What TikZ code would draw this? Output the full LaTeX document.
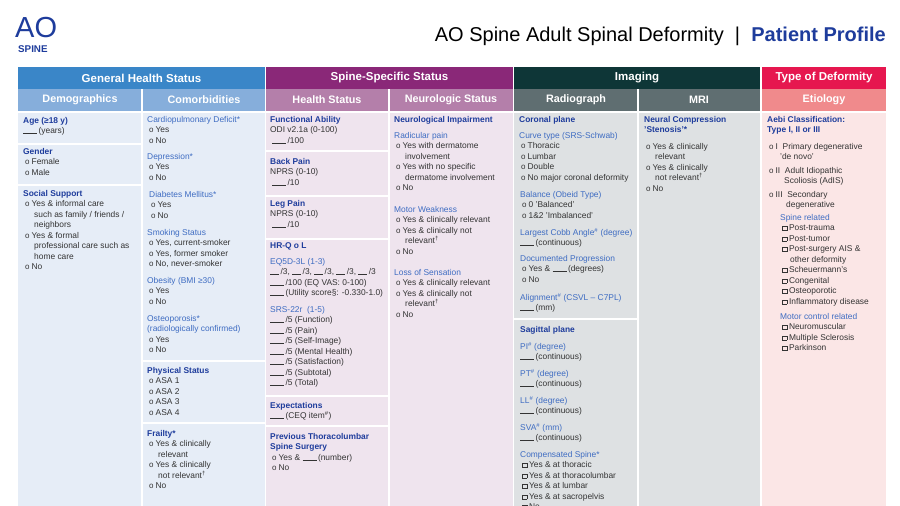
\documentclass[tikz,border=0pt]{standalone}
\usepackage{fontspec}
\setmainfont{Liberation Sans}
\definecolor{gA}{HTML}{3A86C8}\definecolor{gB}{HTML}{86AEDB}\definecolor{gC}{HTML}{E6EDF7}
\definecolor{sA}{HTML}{8A2878}\definecolor{sB}{HTML}{B47FAA}\definecolor{sC}{HTML}{EFE4EE}
\definecolor{iA}{HTML}{0E3637}\definecolor{iB}{HTML}{5F6E71}\definecolor{iC}{HTML}{DEE1E3}
\definecolor{tA}{HTML}{E6174F}\definecolor{tB}{HTML}{F08A8C}\definecolor{tC}{HTML}{FBE6E6}
\definecolor{hdc}{HTML}{1E3C9C}\definecolor{shc}{HTML}{3E6CC2}\definecolor{bodyc}{HTML}{333333}
\newcommand\hd[1]{{\bfseries\color{hdc}#1}}
\newcommand\shd[1]{{\color{shc}#1}}
\newcommand\bl{\hspace*{2pt}{\footnotesize o}\hspace{2pt}}
\newcommand\ct{\hspace*{11pt}}
\newcommand\bln{\rule{14pt}{0.4pt}\,}
\newcommand\chb{{\setlength\fboxrule{0.4pt}\setlength\fboxsep{0pt}\raisebox{0.3pt}{\fbox{\rule{0pt}{4pt}\hspace{4pt}}}}\hspace{2pt}}
\newcommand\cbl{\hspace*{2pt}\chb}
\tikzset{txt/.style={anchor=north west,inner sep=0pt,align=left,text=bodyc,font=\fontsize{8.4}{10.5}\selectfont},
 top/.style={text=white,font=\fontsize{11.5}{13}\selectfont\bfseries},
 sub/.style={text=white,font=\fontsize{10.8}{12}\selectfont\bfseries}}
\begin{document}
\begin{tikzpicture}[x=1pt,y=-1pt]
\useasboundingbox (0,0) rectangle (900,506);
\fill[white] (0,0) rectangle (900,506);
\begin{scope}
\clip (0,0) rectangle (900,506);
% logo and title
\node[anchor=west,inner sep=0,text=hdc,font=\fontsize{29}{29}\selectfont] (logo) at (15,28) {AO};
\node[anchor=west,inner sep=0,text=hdc,font=\fontsize{9.8}{10}\selectfont\bfseries] (spine) at (18,49) {SPINE};
\node[anchor=east,inner sep=0,font=\fontsize{20}{24}\selectfont] (title) at (886,36) {\color{black}AO Spine Adult Spinal Deformity\ \ |\ \ \textcolor{hdc}{\bfseries Patient Profile}};
% column backgrounds
\foreach \xa/\xb/\pa/\pb/\pc in {18/265/gA/gB/gC,266/513/sA/sB/sC,514/760/iA/iB/iC,762/886/tA/tB/tC}{
 \fill[\pa] (\xa,67) rectangle (\xb,89);
 \fill[\pb] (\xa,89) rectangle (\xb,111);
 \fill[\pc] (\xa,111) rectangle (\xb,510);}
% white separators
\foreach \x in {142,389,638}{\fill[white] (\x-1,89) rectangle (\x+1,510);}
\foreach \xa/\xb/\y in {18/141/144,18/141/185,143/265/361,143/265/423,266/388/151,266/388/196,266/388/239,266/388/396,266/388/426,514/637/319}{\fill[white] (\xa,\y-1) rectangle (\xb,\y+1);}
\foreach \xa/\xb in {18/513,514/886}{\fill[white] (\xa,111) rectangle (\xb,112.5);}
% headers
\node[top] (h1) at (141.5,78) {General Health Status};
\node[top] (h2) at (389.5,78) {Spine-Specific Status};
\node[top] (h3) at (637,78) {Imaging};
\node[top] (h4) at (824,78) {Type of Deformity};
\node[sub] (s1) at (80,100) {Demographics};
\node[sub] (s2) at (204,100) {Comorbidities};
\node[sub] (s3) at (327,100) {Health Status};
\node[sub] (s4) at (451,100) {Neurologic Status};
\node[sub] (s5) at (576,100) {Radiograph};
\node[sub] (s6) at (699,100) {MRI};
\node[sub] (s7) at (824,100) {Etiology};
% demographics
\node[txt] (d1) at (23,117) {\hd{Age (≥18 y)}\\\bln(years)};
\node[txt] (d2) at (23,148) {\hd{Gender}\\\bl Female\\\bl Male};
\node[txt] (d3) at (23,190) {\hd{Social Support}\\\bl Yes \& informal care\\\ct such as family / friends /\\\ct neighbors\\\bl Yes \& formal\\\ct professional care such as\\\ct home care\\\bl No};
% comorbidities
\node[txt] (c1) at (147,116) {\shd{Cardiopulmonary Deficit*}\\\bl Yes\\\bl No};
\node[txt] (c2) at (147,153) {\shd{Depression*}\\\bl Yes\\\bl No};
\node[txt] (c3) at (149,191) {\shd{Diabetes Mellitus*}\\\bl Yes\\\bl No};
\node[txt] (c4) at (147,229) {\shd{Smoking Status}\\\bl Yes, current-smoker\\\bl Yes, former smoker\\\bl No, never-smoker};
\node[txt] (c5) at (147,277) {\shd{Obesity (BMI ≥30)}\\\bl Yes\\\bl No};
\node[txt] (c6) at (147,315) {\shd{Osteoporosis*}\\\shd{(radiologically confirmed)}\\\bl Yes\\\bl No};
\node[txt] (c7) at (147,367) {\hd{Physical Status}\\\bl ASA 1\\\bl ASA 2\\\bl ASA 3\\\bl ASA 4};
\node[txt] (c8) at (147,430) {\hd{Frailty*}\\\bl Yes \& clinically\\\ct relevant\\\bl Yes \& clinically\\\ct not relevant\textsuperscript{†}\\\bl No};
% health status
\node[txt] (e1) at (270,116) {\hd{Functional Ability}\\ODI v2.1a (0-100)\\\hspace*{2pt}\bln/100};
\node[txt] (e2) at (270,158) {\hd{Back Pain}\\NPRS (0-10)\\\hspace*{2pt}\bln/10};
\node[txt] (e3) at (270,200) {\hd{Leg Pain}\\NPRS (0-10)\\\hspace*{2pt}\bln/10};
\node[txt] (e4) at (270,242) {\hd{HR-Q o L}};
\node[txt] (e5) at (270,258) {\shd{EQ5D-3L (1-3)}\\\rule{9pt}{0.4pt}\,/3, \rule{9pt}{0.4pt}\,/3, \rule{9pt}{0.4pt}\,/3, \rule{9pt}{0.4pt}\,/3, \rule{9pt}{0.4pt}\,/3\\\bln/100 (EQ VAS: 0-100)\\\bln(Utility score§: -0.330-1.0)};
\node[txt] (e6) at (270,306) {\shd{SRS-22r\ \ (1-5)}\\\bln/5 (Function)\\\bln/5 (Pain)\\\bln/5 (Self-Image)\\\bln/5 (Mental Health)\\\bln/5 (Satisfaction)\\\bln/5 (Subtotal)\\\bln/5 (Total)};
\node[txt] (e7) at (270,402) {\hd{Expectations}\\\bln(CEQ item\textsuperscript{\#})};
\node[txt] (e8) at (270,433) {\hd{Previous Thoracolumbar}\\\hd{Spine Surgery}\\\bl Yes \& \bln(number)\\\bl No};
% neurologic
\node[txt] (n1) at (394,116) {\hd{Neurological Impairment}};
\node[txt] (n2) at (394,132) {\shd{Radicular pain}\\\bl Yes with dermatome\\\ct involvement\\\bl Yes with no specific\\\ct dermatome involvement\\\bl No};
\node[txt] (n3) at (394,206) {\shd{Motor Weakness}\\\bl Yes \& clinically relevant\\\bl Yes \& clinically not\\\ct relevant\textsuperscript{†}\\\bl No};
\node[txt] (n4) at (394,269) {\shd{Loss of Sensation}\\\bl Yes \& clinically relevant\\\bl Yes \& clinically not\\\ct relevant\textsuperscript{†}\\\bl No};
% radiograph
\node[txt] (r1) at (519,116) {\hd{Coronal plane}};
\node[txt] (r2) at (519,132) {\shd{Curve type (SRS-Schwab)}\\\bl Thoracic\\\bl Lumbar\\\bl Double\\\bl No major coronal deformity};
\node[txt] (r3) at (520,191) {\shd{Balance (Obeid Type)}\\\bl 0 'Balanced'\\\bl 1\&2 'Imbalanced'};
\node[txt] (r4) at (520,228) {\shd{Largest Cobb Angle\textsuperscript{\#} (degree)}\\\bln(continuous)};
\node[txt] (r5) at (520,255) {\shd{Documented Progression}\\\bl Yes \& \bln(degrees)\\\bl No};
\node[txt] (r6) at (520,293) {\shd{Alignment\textsuperscript{\#} (CSVL – C7PL)}\\\bln(mm)};
\node[txt] (r7) at (520,326) {\hd{Sagittal plane}};
\node[txt] (r8) at (520,342) {\shd{PI\textsuperscript{\#} (degree)}\\\bln(continuous)};
\node[txt] (r9) at (520,369) {\shd{PT\textsuperscript{\#} (degree)}\\\bln(continuous)};
\node[txt] (r10) at (520,396) {\shd{LL\textsuperscript{\#} (degree)}\\\bln(continuous)};
\node[txt] (r11) at (520,423) {\shd{SVA\textsuperscript{\#} (mm)}\\\bln(continuous)};
\node[txt] (r12) at (520,451) {\shd{Compensated Spine*}\\\cbl Yes \& at thoracic\\\cbl Yes \& at thoracolumbar\\\cbl Yes \& at lumbar\\\cbl Yes \& at sacropelvis\\\cbl No};
% MRI
\node[txt] (m1) at (644,116) {\hd{Neural Compression}\\\hd{'Stenosis'*}};
\node[txt] (m2) at (644,143) {\bl Yes \& clinically\\\ct relevant\\\bl Yes \& clinically\\\ct not relevant\textsuperscript{†}\\\bl No};
% etiology
\node[txt] (t1) at (767,116) {\hd{Aebi Classification:}\\\hd{Type I, II or III}};
\node[txt] (t2) at (767,143) {\bl I\ \ Primary degenerative\\\ct\hspace{2pt}'de novo'};
\node[txt] (t3) at (767,167) {\bl II\ \ Adult Idiopathic\\\ct\hspace{6pt}Scoliosis (AdIS)};
\node[txt] (t4) at (767,191) {\bl III\ \ Secondary\\\ct\hspace{8pt}degenerative};
\node[txt] (t5) at (780,214) {\shd{Spine related}\\\cbl Post-trauma\\\cbl Post-tumor\\\cbl Post-surgery AIS \&\\\hspace*{10pt}other deformity\\\cbl Scheuermann's\\\cbl Congenital\\\cbl Osteoporotic\\\cbl Inflammatory disease};
\node[txt] (t6) at (780,313) {\shd{Motor control related}\\\cbl Neuromuscular\\\cbl Multiple Sclerosis\\\cbl Parkinson};
\end{scope}
\end{tikzpicture}
\end{document}
